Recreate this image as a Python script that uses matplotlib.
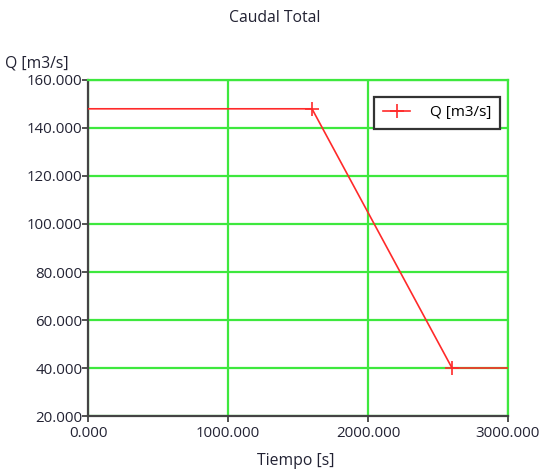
import matplotlib
matplotlib.use("Agg")
import matplotlib.pyplot as plt

tiempo = [0, 1600, 2600, 3000]
caudal = [148, 148, 40, 40]
xticks = [0, 1000, 2000, 3000]
yticks = [20, 40, 60, 80, 100, 120, 140, 160]

plt.rcParams['font.family'] = ['Open Sans', 'DejaVu Sans']
fig = plt.figure(figsize=(5.48, 4.74), dpi=100)
ax = fig.add_axes([88/548, 58/474, 420/548, 336/474])

ax.plot(tiempo, caudal, color='#ff2a2a', lw=1.2, marker='+', ms=10, mew=1.2,
        markevery=[1, 2], label='Q [m3/s]', zorder=3)
ax.set_xlim(0, 3000)
ax.set_ylim(20, 160)
ax.set_xticks(xticks)
ax.set_xticklabels([f"{v:.3f}" for v in xticks])
ax.set_yticks(yticks)
ax.set_yticklabels([f"{v:.3f}" for v in yticks])
ax.grid(True, color='#3ee83e', lw=1.6, zorder=1)
ax.set_axisbelow(True)
for s in ['top', 'right']:
    ax.spines[s].set_color('#3ee83e')
    ax.spines[s].set_linewidth(1.6)
for s in ['left', 'bottom']:
    ax.spines[s].set_color('#444444')
    ax.spines[s].set_linewidth(1.6)
ax.tick_params(direction='out', length=4, width=1.2, color='#333333',
               labelsize=10.8, labelcolor='#222233')
ax.tick_params(axis='y', pad=0)
ax.tick_params(axis='x', pad=3)

fig.text(275/548, 1 - 18/474, 'Caudal Total', ha='center', va='center', fontsize=11.3, color='#222233')
fig.text(5/548, 1 - 63/474, 'Q [m3/s]', ha='left', va='center', fontsize=11.3, color='#222233')
fig.text(296/548, 1 - 461/474, 'Tiempo [s]', ha='center', va='center', fontsize=11.3, color='#222233')

leg = ax.legend(loc='upper right', bbox_to_anchor=((500-88)/420, 1 - 17/336), fontsize=11,
                frameon=True, fancybox=False, framealpha=1, edgecolor='#333333',
                handlelength=1.8, handletextpad=1.3, borderpad=0.55, borderaxespad=0)
leg.get_frame().set_linewidth(1.6)

fig.savefig('out.png', dpi=100)
